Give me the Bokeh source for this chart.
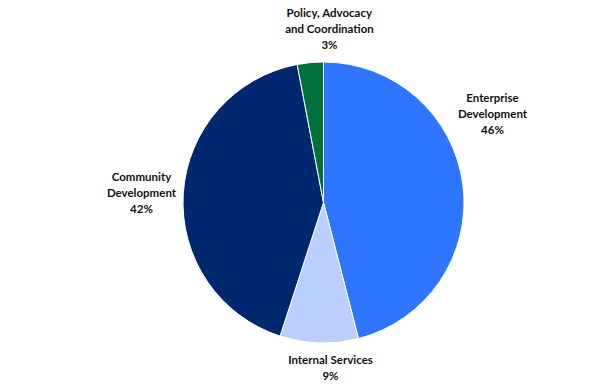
import math
from bokeh.plotting import figure
from bokeh.models import Range1d, ColumnDataSource
from bokeh.core.properties import value
from bokeh.embed import file_html
from bokeh.resources import INLINE

categories = ["Enterprise\nDevelopment", "Internal Services", "Community\nDevelopment", "Policy, Advocacy\nand Coordination"]
shares = [46, 9, 42, 3]
colors = ["#2E75FF", "#BACEFF", "#00286F", "#00703C"]

# layout (pixels inside the figure, y measured from bottom)
W, H = 593, 386
cx, cy, R = 323, 184, 140.5
label_pos = [(492, 273), (330, 19), (141, 194), (329, 358)]

total = sum(shares)
starts, ends, labels = [], [], []
a = math.pi / 2
for s in shares:
    starts.append(a)
    a2 = a - 2 * math.pi * s / total
    ends.append(a2)
    a = a2
for c, s in zip(categories, shares):
    labels.append(f"{c}\n{round(100 * s / total)}%")

src = ColumnDataSource(dict(start=starts, end=ends, color=colors))

p = figure(width=W, height=H, output_backend="svg", toolbar_location=None,
           x_range=Range1d(0, W), y_range=Range1d(0, H), min_border=0)
p.axis.visible = False
p.grid.visible = False
p.outline_line_color = None

p.wedge(x=cx, y=cy, radius=R, start_angle="end", end_angle="start",
        fill_color="color", line_color="white", line_width=1, source=src)

lsrc = ColumnDataSource(dict(x=[l[0] for l in label_pos], y=[l[1] for l in label_pos], text=labels))
p.text(x="x", y="y", text="text", source=lsrc, text_align="center", text_baseline="middle",
       text_font=value("Lato"), text_font_style="bold", text_font_size="11.5px",
       text_line_height=1.2, text_color="#111111")

open("out.html", "w").write(file_html(p, INLINE))
